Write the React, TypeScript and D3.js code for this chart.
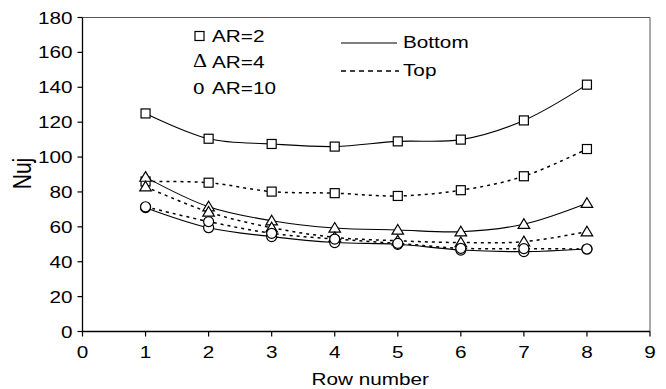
import { useMemo } from "react";
import * as d3 from "d3";

/* ------------------------------------------------------------------ */
/*  Data                                                              */
/* ------------------------------------------------------------------ */

const rows = [1, 2, 3, 4, 5, 6, 7, 8];

const ar2Bottom = [125, 110.5, 107.5, 106, 109, 110, 121, 141.5];
const ar2Top = [86, 85.3, 80.2, 79.3, 77.7, 81, 89, 104.6];
const ar4Bottom = [88.5, 71.5, 63.5, 59.3, 58.2, 57.2, 61.5, 73.5];
const ar4Top = [83, 68.5, 59.5, 54, 52, 51, 51.5, 57.2];
const ar10Bottom = [71, 59.5, 54.4, 51, 50, 46.7, 45.8, 47.3];
const ar10Top = [71.5, 63, 56.3, 53, 50.5, 47.7, 47.5, 47.3];

const xTicks = [0, 1, 2, 3, 4, 5, 6, 7, 8, 9];
const yTicks = [0, 20, 40, 60, 80, 100, 120, 140, 160, 180];

type Marker = "square" | "triangle" | "circle";

interface Series {
  name: string;
  values: number[];
  marker: Marker;
  dashed: boolean;
}

const series: Series[] = [
  { name: "AR=2 Bottom", values: ar2Bottom, marker: "square", dashed: false },
  { name: "AR=2 Top", values: ar2Top, marker: "square", dashed: true },
  { name: "AR=4 Bottom", values: ar4Bottom, marker: "triangle", dashed: false },
  { name: "AR=4 Top", values: ar4Top, marker: "triangle", dashed: true },
  { name: "AR=10 Bottom", values: ar10Bottom, marker: "circle", dashed: false },
  { name: "AR=10 Top", values: ar10Top, marker: "circle", dashed: true },
];

/* ------------------------------------------------------------------ */
/*  Layout                                                            */
/* ------------------------------------------------------------------ */

const W = 666;
const H = 389;
const margin = { left: 82.5, right: 16, top: 17.5, bottom: 57.5 };
const FONT = "Liberation Sans, Arial, sans-serif";
const SERIF = "Liberation Serif, Times New Roman, serif";
// the source picture is a bit stretched horizontally
const STRETCH = 1.22;

function Label({
  x,
  y,
  anchor = "start",
  size = 17,
  children,
}: {
  x: number;
  y: number;
  anchor?: "start" | "middle" | "end";
  size?: number;
  children: React.ReactNode;
}) {
  return (
    <text
      transform={`translate(${x},${y}) scale(${STRETCH},1)`}
      textAnchor={anchor}
      fontFamily={FONT}
      fontSize={size}
      fill="#000"
    >
      {children}
    </text>
  );
}

function MarkerShape({ type, x, y }: { type: Marker; x: number; y: number }) {
  const common = { fill: "#fff", stroke: "#000", strokeWidth: 1.2 };
  if (type === "square") {
    return <rect x={x - 4.5} y={y - 4.5} width={9} height={9} {...common} />;
  }
  if (type === "triangle") {
    const s = 5.5;
    return (
      <path
        d={`M${x},${y - s}L${x + s * 1.05},${y + s * 0.75}L${x - s * 1.05},${y + s * 0.75}Z`}
        {...common}
      />
    );
  }
  return <circle cx={x} cy={y} r={5} {...common} />;
}

export default function App() {
  const x = useMemo(
    () => d3.scaleLinear().domain([0, 9]).range([margin.left, W - margin.right]),
    [],
  );
  const y = useMemo(
    () => d3.scaleLinear().domain([0, 180]).range([H - margin.bottom, margin.top]),
    [],
  );

  const line = d3
    .line<number>()
    .x((_, i) => x(rows[i]))
    .y((d) => y(d))
    .curve(d3.curveCatmullRom.alpha(0.5));

  const x0 = x(0);
  const x1 = x(9);
  const y0 = y(0);
  const y1 = y(180);

  return (
    <svg width={W} height={H} style={{ position: "absolute", left: 0, top: 0, background: "#fff" }}>
      {/* frame */}
      <line x1={x0} x2={x1} y1={y1} y2={y1} stroke="#555" strokeWidth={1} />
      <line x1={x1} x2={x1} y1={y1} y2={y0} stroke="#555" strokeWidth={1} />

      {/* series */}
      {series.map((s) => (
        <path
          key={s.name}
          d={line(s.values) ?? ""}
          fill="none"
          stroke="#000"
          strokeWidth={s.dashed ? 1.5 : 1.1}
          strokeDasharray={s.dashed ? "3,4" : undefined}
        />
      ))}
      {series.map((s) =>
        s.values.map((v, i) => (
          <MarkerShape key={`${s.name}-${i}`} type={s.marker} x={x(rows[i])} y={y(v)} />
        )),
      )}

      {/* axes */}
      <line x1={x0} x2={x0} y1={y1} y2={y0} stroke="#000" strokeWidth={1.3} />
      <line x1={x0} x2={x1} y1={y0} y2={y0} stroke="#000" strokeWidth={1.3} />
      {yTicks.map((t) => (
        <g key={`y${t}`}>
          <line x1={x0 - 5} x2={x0} y1={y(t)} y2={y(t)} stroke="#000" strokeWidth={1.2} />
          <Label x={x0 - 10} y={y(t) + 6} anchor="end">
            {t}
          </Label>
        </g>
      ))}
      {xTicks.map((t) => (
        <g key={`x${t}`}>
          <line x1={x(t)} x2={x(t)} y1={y0} y2={y0 + 5} stroke="#000" strokeWidth={1.2} />
          <Label x={x(t)} y={y0 + 26} anchor="middle">
            {t}
          </Label>
        </g>
      ))}

      {/* axis titles */}
      <text
        transform={`translate(31,${(y0 + y1) / 2 - 1}) scale(${STRETCH},1) rotate(-90)`}
        textAnchor="middle"
        fontFamily={FONT}
        fontSize={21}
      >
        Nuj
      </text>
      <Label x={(x0 + x1) / 2 + 4} y={385} anchor="middle">
        Row number
      </Label>

      {/* marker legend */}
      <rect x={195} y={31.5} width={9} height={9} fill="#fff" stroke="#000" strokeWidth={1.2} />
      <Label x={212} y={42}>AR=2</Label>
      <text
        transform={`translate(193,67) scale(1.15,1)`}
        fontFamily={SERIF}
        fontSize={19}
      >
        Δ
      </text>
      <Label x={212} y={68}>AR=4</Label>
      <text transform="translate(193,94)" fontFamily={SERIF} fontSize={23}>
        o
      </text>
      <Label x={212} y={94}>AR=10</Label>

      {/* line legend */}
      <line x1={341} x2={397} y1={43} y2={43} stroke="#000" strokeWidth={1.2} />
      <Label x={403} y={48}>Bottom</Label>
      <line
        x1={341}
        x2={399}
        y1={71}
        y2={71}
        stroke="#000"
        strokeWidth={1.4}
        strokeDasharray="5,4"
      />
      <Label x={403} y={76}>Top</Label>
    </svg>
  );
}
